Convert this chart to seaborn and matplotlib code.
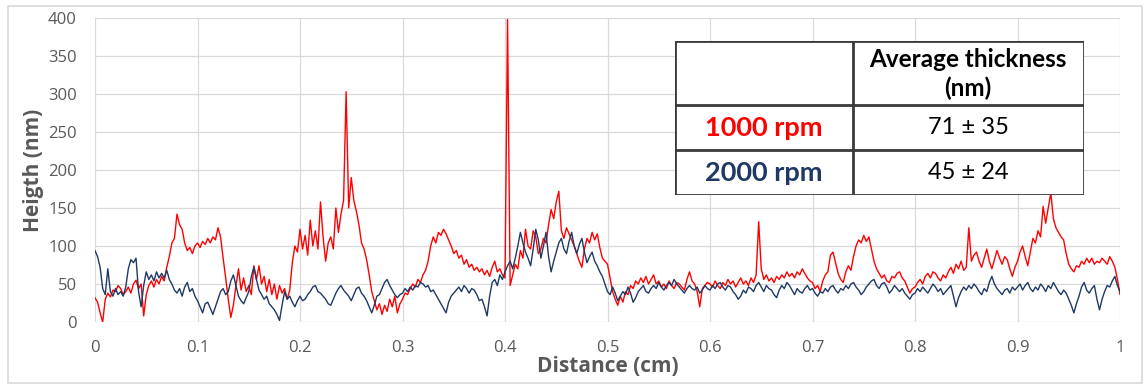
import numpy as np
import pandas as pd
import seaborn as sns
import matplotlib.pyplot as plt
from matplotlib.patches import Rectangle

# height profiles (nm), sampled every 0.0025 cm from 0 to 1 cm
red_1000rpm = [
    32, 26, 12, 0, 30, 38, 33, 42, 40, 48, 44, 36, 40, 46, 38, 50, 55, 44, 50, 8,
    36, 48, 54, 46, 56, 50, 60, 54, 72, 86, 104, 110, 142, 128, 122, 104, 94, 98, 90, 100,
    104, 98, 106, 102, 110, 104, 112, 108, 124, 112, 84, 58, 30, 6, 22, 48, 70, 42, 58, 40,
    48, 36, 74, 56, 74, 50, 60, 40, 56, 36, 50, 30, 48, 38, 44, 30, 42, 78, 100, 92,
    122, 96, 114, 88, 134, 100, 120, 96, 158, 112, 80, 104, 112, 96, 150, 118, 142, 160, 303, 150,
    190, 160, 146, 128, 104, 96, 82, 62, 40, 28, 16, 24, 10, 22, 14, 30, 20, 34, 12, 24,
    30, 38, 36, 44, 50, 46, 56, 52, 62, 68, 80, 100, 112, 104, 118, 114, 122, 116, 108, 100,
    90, 94, 84, 88, 76, 82, 72, 76, 68, 72, 66, 70, 62, 68, 60, 72, 80, 66, 70, 62,
    58, 398, 48, 62, 76, 70, 94, 84, 122, 100, 96, 120, 112, 90, 96, 110, 104, 128, 148, 136,
    158, 172, 120, 110, 124, 116, 108, 100, 90, 80, 72, 96, 110, 104, 118, 108, 116, 98, 84, 80,
    76, 58, 40, 30, 22, 34, 26, 40, 36, 48, 44, 54, 50, 58, 52, 60, 50, 56, 62, 50,
    54, 46, 50, 44, 54, 48, 44, 52, 50, 46, 42, 56, 66, 54, 50, 40, 20, 44, 48, 52,
    50, 46, 54, 48, 44, 52, 48, 56, 50, 54, 46, 52, 58, 50, 54, 48, 58, 52, 62, 132,
    70, 56, 62, 54, 58, 52, 60, 56, 62, 58, 66, 60, 64, 58, 66, 62, 70, 64, 58, 54,
    52, 44, 48, 40, 54, 62, 66, 88, 92, 78, 64, 56, 52, 66, 74, 68, 86, 100, 108, 104,
    114, 106, 112, 96, 80, 70, 64, 58, 62, 54, 52, 60, 58, 64, 66, 58, 54, 46, 38, 44,
    46, 52, 56, 50, 60, 64, 58, 66, 64, 58, 54, 62, 58, 66, 72, 64, 76, 70, 80, 68,
    72, 124, 80, 88, 92, 80, 72, 84, 96, 80, 70, 82, 94, 84, 76, 86, 82, 70, 60, 72,
    80, 92, 100, 86, 74, 92, 110, 104, 120, 112, 152, 130, 150, 170, 136, 124, 118, 112, 108, 90,
    76, 70, 66, 74, 72, 80, 76, 84, 78, 84, 76, 80, 78, 84, 80, 76, 86, 80, 72, 56,
    36,
]
blue_2000rpm = [
    94, 86, 72, 44, 36, 70, 40, 34, 44, 36, 40, 34, 46, 70, 82, 78, 84, 40, 20, 48,
    66, 56, 62, 54, 66, 58, 64, 58, 68, 56, 50, 42, 38, 44, 34, 46, 52, 40, 44, 34,
    28, 20, 12, 24, 26, 18, 10, 20, 30, 40, 44, 36, 40, 54, 62, 48, 34, 28, 24, 32,
    40, 60, 72, 56, 42, 36, 30, 34, 24, 20, 16, 10, 2, 22, 40, 30, 34, 26, 20, 28,
    34, 28, 30, 36, 40, 46, 48, 40, 38, 34, 30, 24, 22, 30, 38, 44, 48, 42, 38, 34,
    28, 36, 44, 46, 38, 34, 28, 20, 12, 22, 34, 36, 44, 52, 56, 48, 42, 36, 32, 36,
    38, 44, 40, 46, 42, 48, 46, 52, 50, 46, 48, 40, 42, 36, 30, 24, 18, 12, 26, 34,
    38, 42, 46, 40, 48, 44, 38, 44, 42, 36, 28, 30, 20, 8, 34, 52, 56, 48, 62, 56,
    66, 74, 80, 70, 84, 100, 118, 104, 92, 84, 74, 96, 122, 108, 84, 100, 118, 86, 66, 80,
    92, 104, 110, 96, 90, 106, 118, 100, 90, 102, 110, 92, 78, 86, 92, 80, 74, 66, 60, 50,
    40, 36, 46, 38, 28, 34, 40, 36, 46, 38, 26, 32, 40, 44, 48, 40, 38, 44, 48, 44,
    52, 46, 42, 48, 52, 48, 56, 50, 46, 42, 38, 44, 48, 44, 42, 46, 38, 42, 48, 44,
    42, 48, 44, 50, 52, 46, 42, 48, 46, 40, 36, 30, 34, 42, 38, 46, 44, 40, 48, 52,
    46, 40, 48, 44, 42, 36, 32, 42, 48, 44, 52, 48, 42, 36, 44, 40, 38, 44, 48, 42,
    44, 38, 34, 40, 38, 44, 40, 46, 48, 42, 38, 44, 42, 48, 44, 50, 52, 46, 42, 36,
    40, 46, 50, 54, 56, 48, 44, 50, 52, 46, 38, 42, 48, 44, 40, 44, 38, 34, 30, 36,
    38, 44, 40, 46, 42, 38, 44, 50, 46, 40, 44, 36, 40, 44, 48, 34, 20, 32, 40, 46,
    42, 48, 44, 50, 46, 40, 36, 44, 40, 52, 60, 50, 44, 40, 36, 42, 44, 38, 46, 42,
    46, 50, 42, 48, 52, 44, 40, 46, 42, 50, 46, 40, 48, 44, 52, 46, 40, 36, 42, 38,
    30, 22, 12, 24, 34, 46, 52, 42, 38, 44, 48, 30, 16, 30, 40, 48, 46, 54, 60, 48,
    40,
]
distance = np.linspace(0, 1, len(red_1000rpm))

series_names = ["1000 rpm", "2000 rpm"]
series_colors = ["#FF0000", "#1F3864"]
table_values = ["71 \u00b1 35", "45 \u00b1 24"]

df = pd.concat([
    pd.DataFrame({"Distance": distance, "Height": red_1000rpm, "Speed": series_names[0]}),
    pd.DataFrame({"Distance": distance, "Height": blue_2000rpm, "Speed": series_names[1]}),
])

sns.set_style("white")
plt.rcParams["font.family"] = ["Open Sans", "DejaVu Sans"]

fig = plt.figure(figsize=(11.47, 3.85), dpi=100)
ax = fig.add_axes([95 / 1147, 1 - 322 / 385, 1025 / 1147, 304 / 385])

sns.lineplot(data=df, x="Distance", y="Height", hue="Speed",
             palette=dict(zip(series_names, series_colors)),
             estimator=None, sort=False, linewidth=1.0, legend=False, ax=ax)

ax.set_xlim(0, 1)
ax.set_ylim(0, 400)
ax.set_xticks(np.arange(0, 1.01, 0.1))
ax.set_xticklabels(["0", "0.1", "0.2", "0.3", "0.4", "0.5", "0.6", "0.7", "0.8", "0.9", "1"])
ax.set_yticks(np.arange(0, 401, 50))
ax.grid(True, color="#D9D9D9", linewidth=0.9)
ax.set_axisbelow(True)
for s in ax.spines.values():
    s.set_visible(False)
ax.tick_params(length=0, pad=13, labelsize=12, labelcolor="#595959")
ax.set_xlabel("Distance (cm)", fontsize=15, fontweight="bold", color="#595959", labelpad=0)
ax.set_ylabel("Heigth (nm)", fontsize=15, fontweight="bold", color="#595959", labelpad=3)

# outer chart frame
fig.add_artist(Rectangle((8 / 1147, 1 - 383 / 385), 1134 / 1147, 377 / 385,
                         transform=fig.transFigure, fill=False,
                         edgecolor="#D9D9D9", linewidth=1.2))

# summary table drawn on its own axes (pixel units)
tab = fig.add_axes([675 / 1147, 1 - 195 / 385, 409 / 1147, 154 / 385])
tab.set_xlim(0, 409)
tab.set_ylim(154, 0)
tab.axis("off")
tab.add_patch(Rectangle((0, 0), 409, 154, facecolor="white", edgecolor="#3A3A3A", linewidth=2))
tab.plot([178, 178], [0, 154], color="#3A3A3A", linewidth=2)
tab.plot([0, 409], [64, 64], color="#3A3A3A", linewidth=2)
tab.plot([0, 409], [109, 109], color="#3A3A3A", linewidth=2)
tab.text(293, 33, "Average thickness\n(nm)", ha="center", va="center", fontsize=17.5,
         fontweight="bold", family="Lato", linespacing=1.25, color="black")
for i, (name, col, val) in enumerate(zip(series_names, series_colors, table_values)):
    yc = 87 + 45 * i
    tab.text(89, yc, name, ha="center", va="center", fontsize=19.5, fontweight="bold",
             family="Lato", color=col)
    tab.text(293, yc, val, ha="center", va="center", fontsize=17, family="Lato", color="black")

fig.savefig("out.png", dpi=100)
